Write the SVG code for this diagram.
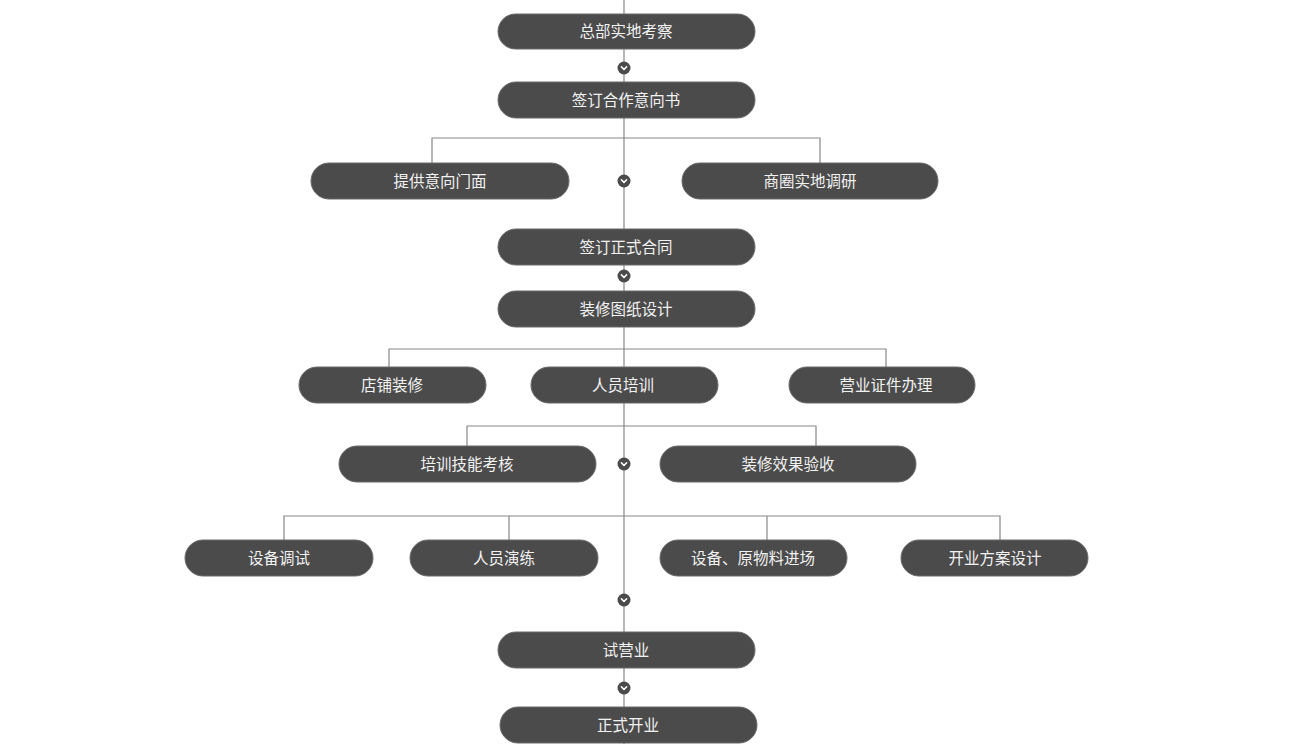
<svg xmlns="http://www.w3.org/2000/svg" width="1295" height="744" viewBox="0 0 1295 744">
<defs>
<style>
.n rect{fill:#4b4b4b;stroke:#6a6a6a;stroke-width:1}
.n text{fill:#f2f2f2;font-family:"Noto Sans CJK SC","Liberation Sans",sans-serif;font-size:15.5px;text-anchor:middle;dominant-baseline:central}
.c line,.c polyline{stroke:#888888;stroke-width:1.2;fill:none}
</style>
<symbol id="chev" viewBox="-7 -7 14 14" overflow="visible">
<circle r="6.5" cx="0" cy="0" fill="#4b4b4b"/>
<path d="M-2.6,-1.2 L0,1.5 L2.6,-1.2" stroke="#fff" stroke-width="1.6" fill="none" stroke-linecap="round" stroke-linejoin="round"/>
</symbol>
</defs>
<rect width="1295" height="744" fill="#ffffff"/>
<g id="connectors" class="c">
<line x1="624" y1="0" x2="624" y2="744"/>
<polyline points="432,163 432,138 820,138 820,163"/>
<polyline points="389,367 389,349 886,349 886,367"/>
<polyline points="467,446 467,426 816,426 816,446"/>
<polyline points="284,540 284,516 1000,516 1000,540"/>
<line x1="509" y1="516" x2="509" y2="540"/>
<line x1="767" y1="516" x2="767" y2="540"/>
</g>
<g id="markers">
<use href="#chev" x="617" y="61" width="14" height="14"/>
<use href="#chev" x="617" y="174" width="14" height="14"/>
<use href="#chev" x="617" y="269" width="14" height="14"/>
<use href="#chev" x="617" y="457" width="14" height="14"/>
<use href="#chev" x="617" y="593" width="14" height="14"/>
<use href="#chev" x="617" y="681" width="14" height="14"/>
</g>
<g id="n1" class="n"><rect x="498" y="14" width="257" height="35" rx="17.5"/><text x="626" y="30">总部实地考察</text></g>
<g id="n2" class="n"><rect x="498" y="82" width="257" height="36" rx="18"/><text x="626" y="98.5">签订合作意向书</text></g>
<g id="n3" class="n"><rect x="311" y="163" width="258" height="36" rx="18"/><text x="440" y="179.5">提供意向门面</text></g>
<g id="n4" class="n"><rect x="682" y="163" width="256" height="36" rx="18"/><text x="810" y="179.5">商圈实地调研</text></g>
<g id="n5" class="n"><rect x="498" y="229" width="257" height="36" rx="18"/><text x="626" y="245.5">签订正式合同</text></g>
<g id="n6" class="n"><rect x="498" y="291" width="257" height="36" rx="18"/><text x="626" y="307.5">装修图纸设计</text></g>
<g id="n7" class="n"><rect x="299" y="367" width="187" height="36" rx="18"/><text x="392" y="383.5">店铺装修</text></g>
<g id="n8" class="n"><rect x="531" y="367" width="187" height="36" rx="18"/><text x="623" y="383.5">人员培训</text></g>
<g id="n9" class="n"><rect x="789" y="367" width="186" height="36" rx="18"/><text x="886" y="383.5">营业证件办理</text></g>
<g id="n10" class="n"><rect x="339" y="446" width="257" height="36" rx="18"/><text x="467" y="462.5">培训技能考核</text></g>
<g id="n11" class="n"><rect x="660" y="446" width="256" height="36" rx="18"/><text x="788" y="462.5">装修效果验收</text></g>
<g id="n12" class="n"><rect x="185" y="540" width="188" height="36" rx="18"/><text x="279" y="556.5">设备调试</text></g>
<g id="n13" class="n"><rect x="410" y="540" width="188" height="36" rx="18"/><text x="504" y="556.5">人员演练</text></g>
<g id="n14" class="n"><rect x="660" y="540" width="187" height="36" rx="18"/><text x="753" y="556.5">设备、原物料进场</text></g>
<g id="n15" class="n"><rect x="901" y="540" width="187" height="36" rx="18"/><text x="995" y="556.5">开业方案设计</text></g>
<g id="n16" class="n"><rect x="498" y="632" width="257" height="36" rx="18"/><text x="626" y="648.5">试营业</text></g>
<g id="n17" class="n"><rect x="500" y="707" width="257" height="36" rx="18"/><text x="628" y="723.5">正式开业</text></g>
</svg>
